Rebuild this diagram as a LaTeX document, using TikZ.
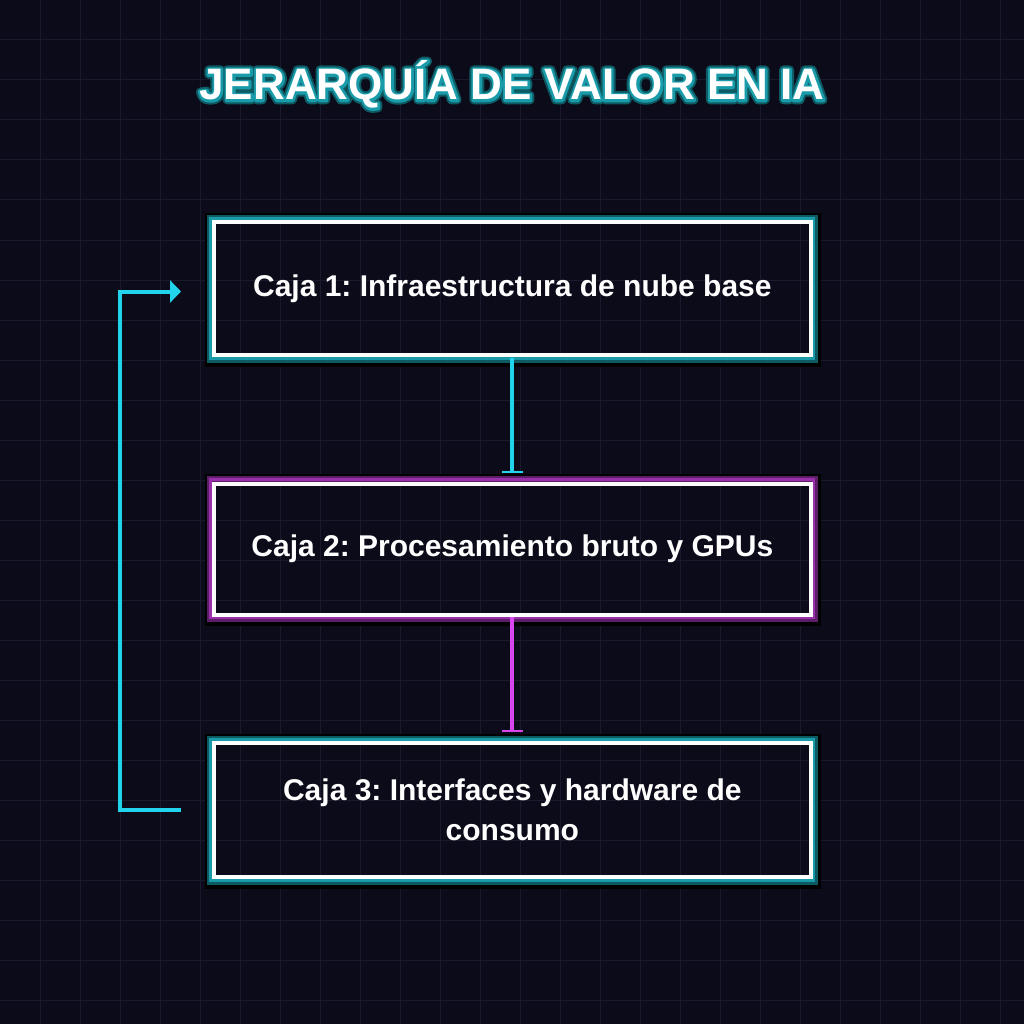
\documentclass[tikz,border=0pt]{standalone}
\usepackage{fontspec}
\setmainfont{Liberation Sans}
\usetikzlibrary{arrows.meta,calc}
\frenchspacing
\definecolor{bg}{HTML}{0B0B1A}
\definecolor{gridc}{HTML}{1A1A2E}
\definecolor{cyanl}{HTML}{22D3EE}
\definecolor{magl}{HTML}{D946EF}
\definecolor{tealg}{HTML}{1A9BAA}
\definecolor{tealdk}{HTML}{0E5A62}
\definecolor{purg}{HTML}{9B30AB}
\definecolor{purdk}{HTML}{5C1E68}
% text outline via PDF text render mode: #1 = mode, #2 = width, #3 = stroke rgb
\newcommand{\txtstroke}[3]{\special{pdf:literal direct #3 RG #2 w 1 j #1 Tr}}
\newcommand{\txtnormal}{\special{pdf:literal direct 0 Tr}}
\tikzset{
  box/.style={draw=white, line width=4pt, minimum width=596.7pt, minimum height=133pt,
    inner sep=0pt, outer sep=0pt, text=white, align=center,
    font=\fontsize{30}{40}\selectfont\bfseries\frenchspacing},
  titletxt/.style={anchor=base, inner sep=0pt, font=\fontsize{44}{50}\selectfont\bfseries},
  conn/.style={line width=4pt},
}
\newcommand{\glowbox}[3]{% node, dark, light
  \draw[black, line width=8pt] ($(#1.north west)+(-5.3,-5.3)$) rectangle ($(#1.south east)+(5.8,7.5)$);
  \draw[#2, line width=5.3pt] ($(#1.north west)+(-4.65,-4.65)$) rectangle ($(#1.south east)+(4.4,4.85)$);
  \draw[#3, line width=3pt] ($(#1.north west)+(-3.5,-3.65)$) rectangle ($(#1.south east)+(3.15,3.35)$);
}
\begin{document}
\begin{tikzpicture}[x=1pt,y=-1pt]
\fill[bg] (0,0) rectangle (1024,1024);
\useasboundingbox (0,0) rectangle (1024,1024);
\foreach \g in {40,80,...,1000} {
  \draw[gridc, line width=1pt] (\g,0) -- (\g,1024);
  \draw[gridc, line width=1pt] (0,\g) -- (1024,\g);
}
% title: dark and teal outlines under a white text
\coordinate (tc) at (512,100);
\node[titletxt, text=tealdk] (tglow) at (tc) {\txtstroke{2}{8.5}{0.055 0.353 0.384}JERARQUÍA DE VALOR EN IA\txtnormal};
\node[titletxt, text=tealg] (tline) at (tc) {\txtstroke{2}{4.6}{0.102 0.608 0.667}JERARQUÍA DE VALOR EN IA\txtnormal};
\node[titletxt, text=white] (title) at (tc) {JERARQUÍA DE VALOR EN IA};

% boxes
\path (512.35,288.5) coordinate (c1) (512.35,549) coordinate (c2) (512.35,810) coordinate (c3);
\node[box, draw=none] (g1) at (c1) {};
\node[box, draw=none, minimum height=131pt] (g2) at (c2) {};
\node[box, draw=none, minimum height=134pt] (g3) at (c3) {};
\glowbox{g1}{tealdk}{tealg}
\glowbox{g2}{purdk}{purg}
\glowbox{g3}{tealdk}{tealg}
\node[box] (b1) at (c1) {Caja 1: Infraestructura de nube base};
\node[box, minimum height=131pt] (b2) at (c2) {Caja 2: Procesamiento bruto y GPUs};
\node[box, minimum height=134pt] (b3) at (c3) {Caja 3: Interfaces y hardware de\\consumo};

% connectors
\draw[conn, cyanl, shorten <=2.5pt, shorten >=11pt, -{Bar[width=21pt,line width=2pt]}] (b1.south) -- (b2.north);
\draw[conn, magl, shorten <=2.5pt, shorten >=11pt, -{Bar[width=21pt,line width=2pt]}] (b2.south) -- (b3.north);
\draw[conn, cyanl, -{Triangle[width=22pt,length=11pt]}]
  ($(b3.west)+(-33,0)$) -- ++(-61,0) |- ($(b1.west)+(-33,3)$);
\end{tikzpicture}
\end{document}
